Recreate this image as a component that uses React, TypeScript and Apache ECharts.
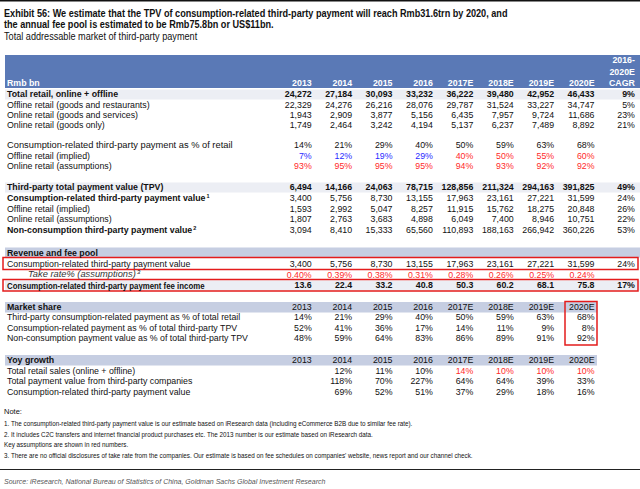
import React, { useEffect, useRef } from "react";
import * as echarts from "echarts";

// ---------- data ----------
const years = ["2013", "2014", "2015", "2016", "2017E", "2018E", "2019E", "2020E"];
const cagrHeader = ["2016-", "2020E", "CAGR"];

const totalRetail = ["24,272", "27,184", "30,093", "33,232", "36,222", "39,480", "42,952", "46,433", "9%"];
const offlineRetail = ["22,329", "24,276", "26,216", "28,076", "29,787", "31,524", "33,227", "34,747", "5%"];
const onlineRetailGS = ["1,943", "2,909", "3,877", "5,156", "6,435", "7,957", "9,724", "11,686", "23%"];
const onlineRetailGoods = ["1,749", "2,464", "3,242", "4,194", "5,137", "6,237", "7,489", "8,892", "21%"];

const consPctRetail = ["14%", "21%", "29%", "40%", "50%", "59%", "63%", "68%"];
const offlineImplied = ["7%", "12%", "19%", "29%", "40%", "50%", "55%", "60%"];
const onlineAssumptions = ["93%", "95%", "95%", "95%", "94%", "93%", "92%", "92%"];

const tpv = ["6,494", "14,166", "24,063", "78,715", "128,856", "211,324", "294,163", "391,825", "49%"];
const consTpv = ["3,400", "5,756", "8,730", "13,155", "17,963", "23,161", "27,221", "31,599", "24%"];
const offlineTpv = ["1,593", "2,992", "5,047", "8,257", "11,915", "15,762", "18,275", "20,848", "26%"];
const onlineTpv = ["1,807", "2,763", "3,683", "4,898", "6,049", "7,400", "8,946", "10,751", "22%"];
const nonConsTpv = ["3,094", "8,410", "15,333", "65,560", "110,893", "188,163", "266,942", "360,226", "53%"];

const takeRate = ["0.40%", "0.39%", "0.38%", "0.31%", "0.28%", "0.26%", "0.25%", "0.24%"];
const feeIncome = ["13.6", "22.4", "33.2", "40.8", "50.3", "60.2", "68.1", "75.8", "17%"];

const msRetail = ["14%", "21%", "29%", "40%", "50%", "59%", "63%", "68%"];
const msCons = ["52%", "41%", "36%", "17%", "14%", "11%", "9%", "8%"];
const msNonCons = ["48%", "59%", "64%", "83%", "86%", "89%", "91%", "92%"];

const yoyRetail = ["", "12%", "11%", "10%", "14%", "10%", "10%", "10%"];
const yoyTpv = ["", "118%", "70%", "227%", "64%", "64%", "39%", "33%"];
const yoyCons = ["", "69%", "52%", "51%", "37%", "29%", "18%", "16%"];

const titleLines = [
  "Exhibit 56: We estimate that the TPV of consumption-related third-party payment will reach Rmb31.6trn by 2020, and",
  "the annual fee pool is estimated to be Rmb75.8bn or US$11bn.",
];
const subtitle = "Total addressable market of third-party payment";
const notes = [
  "1. The consumption-related third-party payment value is our estimate based on iResearch data (including eCommerce B2B due to similar fee rate).",
  "2. It includes C2C transfers and internet financial product purchases etc. The 2013 number is our estimate based on iResearch data.",
  "Key assumptions are shown in red numbers.",
  "3. There are no official disclosures of take rate from the companies. Our estimate is based on fee schedules on companies' website, news report and our channel check.",
];
const source = "Source: iResearch, National Bureau of Statistics of China, Goldman Sachs Global Investment Research";

// ---------- styles ----------
const RED = "#ff2a2a";
const BLUE = "#2a2aff";
const INK = "#111111";
const FONT = "'Liberation Sans', Arial, sans-serif";
const HEAD_BLUE = "#5a79b6";
const LIGHT_BAND = "#eceef4";
const SECTION_BAND = "#c6cee2";
const FS = 8.8;

const B = "b", R = "r", K = "k";
const offlineImpliedColors = [B, B, B, B, R, R, R, R];
const allRed = [R, R, R, R, R, R, R, R];
const yoyRetailColors = [K, K, K, K, R, R, R, R];

type RowDef = {
  label: string; sup?: string; y: number; vals: string[];
  lb?: boolean; vb?: boolean; colors?: string[]; italic?: boolean; x?: number; sx?: number;
};

const rowsDef: RowDef[] = [
  { label: "Total retail, online + offline", y: 94.3, vals: totalRetail, lb: true, vb: true },
  { label: "Offline retail (goods and restaurants)", y: 104.6, vals: offlineRetail },
  { label: "Online retail (goods and services)", y: 114.9, vals: onlineRetailGS },
  { label: "Online retail (goods only)", y: 125.1, vals: onlineRetailGoods },
  { label: "Consumption-related third-party payment as % of retail", y: 145.4, vals: consPctRetail, sx: 1.06 },
  { label: "Offline retail (implied)", y: 155.8, vals: offlineImplied, colors: offlineImpliedColors },
  { label: "Online retail (assumptions)", y: 166.0, vals: onlineAssumptions, colors: allRed },
  { label: "Third-party total payment value (TPV)", y: 187.3, vals: tpv, lb: true, vb: true },
  { label: "Consumption-related third-party payment value", sup: "1", y: 198.4, vals: consTpv, lb: true },
  { label: "Offline retail (implied)", y: 209.0, vals: offlineTpv },
  { label: "Online retail (assumptions)", y: 219.3, vals: onlineTpv },
  { label: "Non-consumption third-party payment value", sup: "2", y: 230.2, vals: nonConsTpv, lb: true },
  { label: "Revenue and fee pool", y: 252.6, vals: [], lb: true },
  { label: "Consumption-related third-party payment value", y: 263.6, vals: consTpv },
  { label: "Take rate% (assumptions)", sup: "3", y: 274.5, vals: takeRate, colors: allRed, italic: true, x: 28, sx: 1.06 },
  { label: "Consumption-related third-party payment fee income", y: 285.4, vals: feeIncome, lb: true, vb: true, sx: 0.89 },
  { label: "Market share", y: 307.0, vals: years, lb: true },
  { label: "Third-party consumption-related payment as % of total retail", y: 317.2, vals: msRetail },
  { label: "Consumption-related payment as % of total third-party TPV", y: 327.5, vals: msCons },
  { label: "Non-consumption payment value as % of total third-party TPV", y: 337.8, vals: msNonCons },
  { label: "Yoy growth", y: 360.0, vals: years, lb: true },
  { label: "Total retail sales (online + offline)", y: 370.9, vals: yoyRetail, colors: yoyRetailColors },
  { label: "Total payment value from third-party companies", y: 381.4, vals: yoyTpv },
  { label: "Consumption-related third-party payment value", y: 391.8, vals: yoyCons },
];

const HEADER_Y = 83.3;

type Cell = { col: number; y: number; text: string; color: string; bold: boolean };

function buildCells(): Cell[] {
  const cells: Cell[] = [];
  years.forEach((t, i) => cells.push({ col: i + 1, y: HEADER_Y, text: t, color: "#ffffff", bold: true }));
  cagrHeader.forEach((t, i) => cells.push({ col: 9, y: [60.2, 71.7, HEADER_Y][i], text: t, color: "#ffffff", bold: true }));
  rowsDef.forEach((r) => {
    r.vals.forEach((v, i) => {
      if (!v) return;
      const c = r.colors ? r.colors[i] : K;
      cells.push({
        col: i + 1, y: r.y, text: v,
        color: c === R ? RED : c === B ? BLUE : INK,
        bold: !!r.vb,
      });
    });
  });
  return cells;
}

export default function App() {
  const ref = useRef<HTMLDivElement>(null);
  useEffect(() => {
    document.body.style.margin = "0";
    if (!ref.current) return;
    const chart = echarts.init(ref.current, undefined, { renderer: "svg" });
    const cells = buildCells();

    const graphics: any[] = [];
    // top rule
    graphics.push({ type: "rect", shape: { x: 0, y: 0, width: 640, height: 1.6 }, style: { fill: "#111" } });
    titleLines.forEach((t, i) =>
      graphics.push({
        type: "text", x: 4, y: [13.2, 24.6][i], scaleX: 0.862,
        style: { text: t, font: `bold 10.6px ${FONT}`, fill: INK, verticalAlign: "middle" },
      })
    );
    graphics.push({
      type: "text", x: 4, y: 36.3, scaleX: 0.87,
      style: { text: subtitle, font: `10.5px ${FONT}`, fill: INK, verticalAlign: "middle" },
    });
    // header band
    graphics.push({ type: "rect", shape: { x: 5, y: 55, width: 635, height: 33 }, style: { fill: HEAD_BLUE } });
    graphics.push({
      type: "text", x: 7, y: HEADER_Y,
      style: { text: "Rmb bn", font: `bold ${FS}px ${FONT}`, fill: "#fff", verticalAlign: "middle" },
    });
    // light bands
    [[89.5, 10], [182.5, 10], [280.5, 10]].forEach(([y, h]) =>
      graphics.push({ type: "rect", shape: { x: 5, y, width: 635, height: h }, style: { fill: LIGHT_BAND } })
    );
    // section bands
    graphics.push({ type: "rect", shape: { x: 5, y: 247.5, width: 635, height: 10 }, style: { fill: SECTION_BAND } });
    graphics.push({ type: "rect", shape: { x: 5, y: 302, width: 592, height: 10.5 }, style: { fill: SECTION_BAND } });
    graphics.push({ type: "rect", shape: { x: 5, y: 355, width: 592, height: 10.5 }, style: { fill: SECTION_BAND } });
    // red boxes
    graphics.push({ type: "rect", shape: { x: 3, y: 257.5, width: 635, height: 12 }, style: { fill: "none", stroke: "#e41c1c", lineWidth: 1.5 } });
    graphics.push({ type: "rect", shape: { x: 3, y: 279.5, width: 635, height: 11.5 }, style: { fill: "none", stroke: "#e41c1c", lineWidth: 1.5 } });
    graphics.push({ type: "rect", shape: { x: 565, y: 301.5, width: 32, height: 43.5 }, style: { fill: "none", stroke: "#e41c1c", lineWidth: 1.5 } });

    // row labels
    rowsDef.forEach((r) => {
      const weight = r.lb ? "bold " : "";
      const ital = r.italic ? "italic " : "";
      const rich: any = {
        a: { font: `${ital}${weight}${FS}px ${FONT}`, fill: r.italic ? "#333" : INK },
        s: { font: `${ital}${weight}5.5px ${FONT}`, fill: INK, padding: [0, 0, 5, 1] },
      };
      graphics.push({
        type: "text", x: r.x ?? 7, y: r.y, scaleX: r.sx ?? 1,
        style: {
          text: r.sup ? `{a|${r.label}}{s|${r.sup}}` : `{a|${r.label}}`,
          rich, verticalAlign: "middle",
        },
      });
    });

    // notes
    graphics.push({
      type: "text", x: 4, y: 411.5,
      style: { text: "Note:", font: `7.5px ${FONT}`, fill: INK, verticalAlign: "middle" },
    });
    notes.forEach((t, i) =>
      graphics.push({
        type: "text", x: 4, y: [423.4, 434.0, 444.5, 455.0][i],
        style: { text: t, font: `6.3px ${FONT}`, fill: INK, verticalAlign: "middle" },
      })
    );
    graphics.push({ type: "rect", shape: { x: 0, y: 469, width: 640, height: 1 }, style: { fill: "#222" } });
    graphics.push({
      type: "text", x: 4, y: 481,
      style: { text: source, font: `italic 7px ${FONT}`, fill: "#555", verticalAlign: "middle" },
    });

    chart.setOption({
      animation: false,
      backgroundColor: "#ffffff",
      grid: { left: 271.3, right: 5.1, top: 0, bottom: 0 },
      xAxis: { type: "value", min: 0, max: 9, show: false },
      yAxis: { type: "value", min: 0, max: 489, inverse: true, show: false },
      graphic: { elements: graphics },
      series: [
        {
          type: "custom",
          z: 10,
          data: cells.map((c, i) => [c.col, c.y, i]),
          renderItem: (_params: any, api: any) => {
            const c = cells[api.value(2)];
            const p = api.coord([api.value(0), api.value(1)]);
            return {
              type: "text",
              x: p[0], y: p[1],
              style: {
                text: c.text,
                font: `${c.bold ? "bold " : ""}${FS}px ${FONT}`,
                fill: c.color,
                align: "right",
                verticalAlign: "middle",
              },
            };
          },
        },
      ],
    });
    return () => chart.dispose();
  }, []);
  return <div ref={ref} style={{ width: 640, height: 489 }} />;
}
